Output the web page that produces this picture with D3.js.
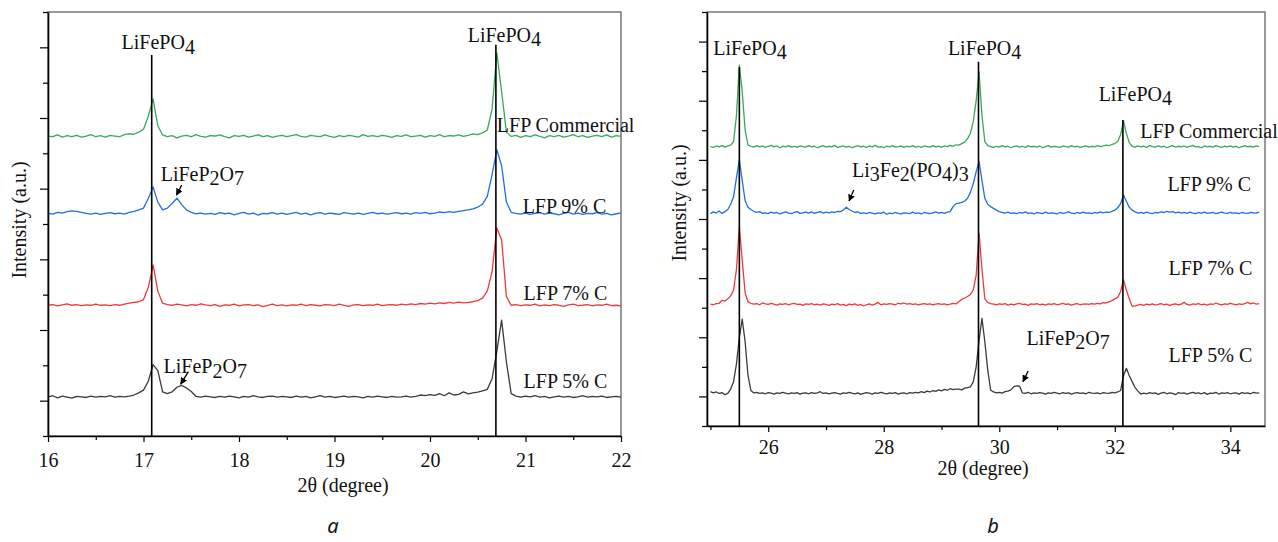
<!DOCTYPE html>
<html lang="en">
<head>
<meta charset="utf-8">
<title>XRD patterns of LFP samples</title>
<script src="https://cdnjs.cloudflare.com/ajax/libs/d3/7.8.5/d3.min.js"></script>
<style>
  body { margin: 0; background: #fff; }
  svg text { font-family: "Liberation Serif", "Times New Roman", serif; fill: #111; }
  svg text.panel-tag { font-family: "Noto Sans", "DejaVu Sans", sans-serif; font-style: italic; }
</style>
</head>
<body>
<script>
// ---------- data ----------
// sampling grids (2theta, degree)
const xStepLeft = 0.05, xStartLeft = 16.0, nLeft = 121;
const xStepRight = 0.05, xStartRight = 25.0, nRight = 191;

// panel a, intensity (a.u., offset stacked)
const aCommercial = [
  8.49,8.47,8.52,8.46,8.50,8.47,8.51,8.46,8.49,8.53,8.47,8.50,8.46,8.51,8.49,8.47,8.53,8.55,8.54,8.60,
  8.68,9.05,9.54,8.78,8.52,
  8.47,8.50,8.44,8.49,8.51,8.47,8.53,8.48,8.46,8.50,8.49,8.52,8.47,8.44,8.50,8.48,8.51,8.46,8.49,8.52,8.47,8.50,8.45,8.49,8.51,
  8.47,8.50,8.53,8.48,8.46,8.51,8.49,8.47,8.52,8.48,8.45,8.50,8.47,8.51,8.49,8.46,8.53,8.48,8.50,8.47,8.51,8.49,8.45,8.50,8.48,
  8.52,8.47,8.49,8.51,8.46,8.50,8.48,8.53,8.47,8.50,8.49,8.52,8.48,8.51,8.55,8.53,8.58,
  8.66,9.25,10.84,9.75,8.60,
  8.48,8.51,8.45,8.50,8.47,8.52,8.48,8.44,8.50,8.47,8.51,8.46,8.49,8.53,8.47,8.50,8.45,8.49,8.51,8.47,8.52,8.46,8.50,8.48
];
const aC9 = [
  6.30,6.28,6.33,6.31,6.35,6.37,6.36,6.33,6.30,6.28,6.31,6.27,6.30,6.32,6.29,6.31,6.28,6.33,6.36,6.40,
  6.45,6.72,7.05,6.62,6.40,6.45,6.58,6.73,6.55,6.40,6.33,6.29,
  6.31,6.28,6.30,6.27,6.32,6.29,6.31,6.26,6.30,6.33,6.28,6.31,6.25,6.30,6.29,6.32,6.28,6.31,
  6.27,6.30,6.33,6.28,6.31,6.26,6.30,6.32,6.28,6.31,6.29,6.27,6.32,6.30,6.28,6.31,6.27,6.30,6.33,6.29,6.31,6.28,6.30,6.32,6.29,
  6.31,6.28,6.32,6.30,6.33,6.29,6.31,6.34,6.32,6.35,6.33,6.36,6.38,6.40,6.43,
  6.48,6.56,6.78,7.40,8.10,7.65,6.62,6.33,
  6.30,6.28,6.31,6.27,6.30,6.32,6.28,6.31,6.29,6.26,6.30,6.33,6.28,6.31,6.27,6.30,6.29,6.32,6.28,6.30,6.26,6.29,6.31
];
const aC7 = [
  3.70,3.72,3.68,3.71,3.74,3.70,3.72,3.69,3.71,3.70,3.73,3.70,3.71,3.69,3.72,3.70,3.73,3.76,3.78,
  3.80,3.86,4.20,4.84,4.10,3.76,
  3.72,3.70,3.73,3.71,3.68,3.72,3.70,3.74,3.71,3.69,3.72,3.67,3.71,3.70,3.73,3.68,3.71,3.72,3.69,3.71,3.66,3.70,3.73,3.69,3.71,
  3.68,3.71,3.70,3.73,3.69,3.72,3.70,3.68,3.72,3.71,3.69,3.73,3.70,3.67,3.71,3.72,3.69,3.71,3.70,3.73,3.69,3.71,3.72,3.70,3.73,
  3.71,3.74,3.72,3.75,3.73,3.76,3.74,3.77,3.75,3.78,3.76,3.79,3.77,3.78,3.80,3.83,
  3.90,4.10,4.65,5.89,5.55,3.95,3.70,
  3.72,3.69,3.71,3.70,3.73,3.68,3.71,3.69,3.72,3.70,3.67,3.71,3.73,3.69,3.70,3.72,3.68,3.71,3.70,3.73,3.69,3.70,3.68
];
const aC5 = [
  1.10,1.14,1.08,1.13,1.10,1.07,1.12,1.11,1.09,1.13,1.10,1.12,1.11,1.14,1.10,1.12,1.11,1.13,1.16,1.22,
  1.30,1.55,2.02,1.85,1.25,1.20,1.25,1.38,1.43,1.36,1.26,1.12,
  1.10,1.13,1.11,1.09,1.12,1.10,1.13,1.11,1.08,1.12,1.10,1.14,1.11,1.09,1.12,1.13,1.10,1.12,
  1.11,1.09,1.13,1.10,1.12,1.08,1.11,1.14,1.10,1.12,1.09,1.11,1.13,1.10,1.12,1.11,1.08,1.12,1.10,1.13,1.11,1.09,1.12,1.10,1.11,
  1.13,1.10,1.12,1.16,1.14,1.17,1.15,1.20,1.14,1.22,1.16,1.18,1.25,1.19,1.22,1.24,1.28,
  1.32,1.62,2.40,3.28,2.10,1.20,1.13,
  1.10,1.13,1.11,1.14,1.10,1.12,1.08,1.11,1.13,1.10,1.12,1.09,1.11,1.14,1.10,1.12,1.11,1.13,1.09,1.11,1.12,1.10
];

// panel b
const bCommercial = [
  9.45,9.42,9.47,9.44,9.48,9.43,9.47,9.50,
  9.62,10.50,12.20,11.30,10.00,9.50,
  9.46,9.43,9.48,9.44,9.47,9.42,9.46,9.49,9.44,9.47,9.41,9.46,9.44,9.48,9.43,9.46,9.42,9.47,9.45,9.43,9.48,9.44,9.46,9.41,9.45,9.48,9.43,
  9.46,9.44,9.49,9.42,9.45,9.47,9.43,9.46,9.41,9.45,9.48,9.44,9.46,9.42,9.47,9.44,9.49,9.43,9.45,9.41,9.46,9.44,9.48,9.43,9.45,9.47,9.42,9.46,9.44,9.48,
  9.43,9.46,9.42,9.47,9.45,9.43,9.48,9.44,9.46,9.42,9.47,9.45,9.49,9.46,9.51,9.50,9.55,
  9.60,9.72,9.90,10.30,11.00,11.98,10.50,9.62,9.48,
  9.45,9.42,9.46,9.43,9.48,9.44,9.46,9.41,9.45,9.47,9.43,9.46,9.42,9.48,9.44,9.46,9.43,9.47,9.41,9.45,9.48,9.43,9.46,9.44,9.42,9.47,9.45,9.43,9.48,9.44,9.46,9.42,9.45,9.47,9.43,9.46,9.44,9.48,9.45,9.47,9.50,9.48,9.52,9.55,
  9.62,9.85,10.32,9.90,9.58,9.46,
  9.43,9.47,9.44,9.46,9.42,9.48,9.45,9.43,9.47,9.44,9.46,9.41,9.45,9.48,9.43,9.46,9.44,9.47,9.42,9.46,9.49,9.44,9.45,9.41,9.47,9.44,9.46,9.43,9.48,9.45,9.42,9.46,9.44,9.47,9.43,9.46,9.41,9.45,9.48,9.44,9.46,9.43,9.47,9.45
];
const bC9 = [
  7.18,7.24,7.20,7.27,7.19,7.25,7.32,
  7.50,7.75,8.40,9.00,8.30,7.62,7.40,7.32,
  7.26,7.22,7.25,7.19,7.21,7.18,7.23,7.20,7.22,7.17,7.21,7.24,7.20,7.18,7.22,7.25,7.19,7.21,7.23,7.20,7.24,7.19,7.22,7.25,7.20,7.23,
  7.21,7.24,7.22,7.26,7.25,7.30,7.40,7.32,7.27,7.22,7.24,7.19,7.21,
  7.18,7.22,7.20,7.17,7.21,7.19,7.23,7.16,7.20,7.18,7.22,7.19,7.17,7.21,7.20,7.18,7.23,7.19,7.21,7.17,7.22,7.20,7.18,7.21,7.24,7.20,7.22,7.19,7.23,7.25,7.42,7.52,
  7.54,7.56,7.60,7.70,7.90,8.20,8.60,8.94,8.30,7.70,7.50,7.42,7.36,7.30,
  7.25,7.22,7.20,7.23,7.19,7.21,7.18,7.22,7.20,7.24,7.19,7.21,7.17,7.22,7.20,7.18,7.23,7.19,7.21,7.20,7.17,7.22,7.19,7.21,7.24,7.20,7.18,7.22,7.19,7.23,7.20,7.21,7.18,7.22,7.20,7.24,7.21,7.23,7.22,7.26,7.30,
  7.38,7.52,7.81,7.60,7.40,7.30,7.24,
  7.20,7.22,7.19,7.23,7.20,7.18,7.22,7.21,7.24,7.22,7.26,7.23,7.25,7.21,7.23,7.20,7.22,7.19,7.23,7.20,7.18,7.22,7.20,7.23,7.19,7.21,7.22,7.18,7.21,7.23,7.20,7.19,7.22,7.20,7.21,7.18,7.22,7.20,7.19,7.22,7.21,7.20,7.23
];
const bC7 = [
  4.12,4.10,4.14,4.15,
  4.25,4.22,4.30,4.40,4.60,5.30,6.74,5.60,4.50,4.20,
  4.15,4.12,4.14,4.10,4.16,4.13,4.11,4.15,4.12,4.09,4.13,4.11,4.14,4.10,4.13,4.15,4.11,4.12,4.08,4.13,4.11,4.14,4.10,4.12,4.09,4.13,4.11,
  4.08,4.12,4.10,4.14,4.09,4.11,4.07,4.12,4.10,4.13,4.08,4.11,4.06,4.10,4.13,4.09,4.12,4.18,4.10,4.13,4.11,4.14,4.12,4.10,4.15,4.13,4.16,4.12,4.14,4.11,
  4.13,4.10,4.12,4.14,4.11,4.13,4.10,4.12,4.14,4.11,4.13,4.10,4.12,4.15,4.13,4.20,4.28,4.33,4.38,
  4.45,4.60,5.10,6.52,5.30,4.30,4.18,4.14,
  4.12,4.10,4.13,4.11,4.14,4.09,4.12,4.10,4.13,4.15,4.11,4.12,4.08,4.13,4.11,4.14,4.10,4.12,4.09,4.13,4.11,4.14,4.10,4.12,4.15,4.11,4.13,4.09,4.12,4.14,4.10,4.12,4.13,4.11,4.14,4.12,4.15,4.13,4.17,4.16,4.20,4.24,4.30,
  4.35,4.55,4.94,4.60,4.30,4.05,
  4.06,4.09,4.11,4.08,4.12,4.10,4.13,4.09,4.11,4.14,4.10,4.12,4.08,4.11,4.13,4.10,4.12,4.18,4.11,4.09,4.13,4.11,4.14,4.10,4.12,4.09,4.13,4.11,4.16,4.12,4.10,4.13,4.11,4.15,4.12,4.10,4.13,4.11,4.14,4.18,4.13,4.16,4.12,4.14
];
const bC5 = [
  1.16,1.12,1.15,1.10,1.13,1.06,1.10,
  1.25,1.50,2.10,3.00,3.61,2.85,1.70,1.20,1.12,
  1.14,1.10,1.12,1.09,1.13,1.11,1.08,1.12,1.10,1.14,1.11,1.09,1.12,1.10,1.13,1.08,1.11,1.12,1.09,1.13,1.10,1.12,1.16,1.10,1.12,
  1.09,1.11,1.13,1.10,1.08,1.12,1.10,1.14,1.11,1.09,1.12,1.07,1.10,1.13,1.11,1.08,1.12,1.10,1.14,1.11,1.09,1.12,1.10,1.13,1.08,1.11,1.12,1.09,1.13,1.11,
  1.14,1.12,1.16,1.13,1.18,1.15,1.20,1.17,1.22,1.19,1.24,1.21,1.26,1.23,1.25,
  1.25,1.22,1.28,1.30,1.32,1.50,2.00,2.90,3.64,2.85,1.90,1.22,1.15,
  1.12,1.14,1.11,1.16,1.18,
  1.22,1.33,1.36,1.35,1.12,
  1.10,1.14,1.09,1.12,1.10,1.13,1.11,1.08,1.12,1.10,1.14,1.11,1.09,1.13,1.10,1.12,1.08,1.11,1.13,1.10,1.12,1.09,1.14,1.11,1.10,1.12,1.09,1.13,1.11,1.10,1.14,1.12,1.15,
  1.20,1.70,1.95,1.70,1.50,1.30,1.18,1.08,
  1.11,1.09,1.13,1.10,1.12,1.07,1.11,1.14,1.09,1.12,1.10,1.06,1.13,1.10,1.12,1.08,1.11,1.14,1.10,1.12,1.09,1.13,1.07,1.11,1.10,1.14,1.08,1.12,1.10,1.13,1.09,1.11,1.12,1.08,1.13,1.10,1.12,1.09,1.14,1.11,1.12
];

const seriesColors = ["#38a95c", "#1f6fe3", "#ef3a3c", "#3b3b3b"];

// tick values
const aMajorX = [16, 17, 18, 19, 20, 21, 22];
const aMinorX = [16.5, 17.5, 18.5, 19.5, 20.5, 21.5];
const aMajorY = [1, 3, 5, 7, 9, 11];
const aMinorY = [0, 2, 4, 6, 8, 10, 12];
const bMajorX = [26, 28, 30, 32, 34];
const bMinorX = [25, 27, 29, 31, 33];
const bMajorY = [1, 3, 5, 7, 9, 11, 13];
const bMinorY = [0, 2, 4, 6, 8, 10, 12, 14];

// reference lines [2theta, top intensity]
const aRefLines = [[17.086, 10.78], [20.69, 11.07]];
const bRefLines = [[25.50, 12.14], [29.64, 12.32], [32.14, 10.35]];

// annotations [text, 2theta, intensity]  ("_" marks a subscript digit)
const aLabels = [
  ["LiFePO_4", 16.77, 10.94], ["LiFePO_4", 20.395, 11.16],
  ["LiFeP_2O_7", 17.18, 7.22], ["LiFeP_2O_7", 17.21, 1.77],
  ["LFP Commercial", 20.70, 8.61], ["LFP 9% C", 20.97, 6.30],
  ["LFP 7% C", 20.98, 3.85], ["LFP 5% C", 20.98, 1.35]
];
const bLabels = [
  ["LiFePO_4", 25.05, 12.55], ["LiFePO_4", 29.11, 12.55], ["LiFePO_4", 31.72, 11.0],
  ["Li_3Fe_2(PO_4)_3", 27.45, 8.43], ["LiFeP_2O_7", 30.47, 2.74],
  ["LFP Commercial", 32.44, 9.73], ["LFP 9% C", 32.91, 7.96],
  ["LFP 7% C", 32.93, 5.11], ["LFP 5% C", 32.93, 2.17]
];
// arrows [x0, y0, x1, y1]
const aArrows = [[17.40, 7.10, 17.345, 6.82], [17.47, 1.82, 17.39, 1.47]];
const bArrows = [[27.48, 7.98, 27.40, 7.61], [30.50, 1.86, 30.41, 1.50]];

// ---------- drawing ----------
const SERIF = '"Liberation Serif", "Times New Roman", serif';
const W = 1278, H = 542;
const svg = d3.select("body").append("svg").attr("width", W).attr("height", H);

svg.append("defs").append("marker")
  .attr("id", "arrowhead")
  .attr("viewBox", "0 0 10 10")
  .attr("refX", 9).attr("refY", 5)
  .attr("markerWidth", 7).attr("markerHeight", 7)
  .attr("markerUnits", "userSpaceOnUse")
  .attr("orient", "auto")
  .append("path").attr("d", "M0,0 L10,5 L0,10 Z").attr("fill", "#000");

function richText(g, str, x, y) {
  const t = g.append("text").attr("x", x).attr("y", y)
    .style("font-family", SERIF).style("font-size", "20px");
  const parts = str.split(/(_\d)/).filter(s => s.length);
  let lowered = false;
  parts.forEach(p => {
    if (p[0] === "_") {
      t.append("tspan").attr("dy", lowered ? 0 : 4.5).text(p[1]);
      lowered = true;
    } else {
      t.append("tspan").attr("dy", lowered ? -4.5 : 0).text(p);
      lowered = false;
    }
  });
}

function drawPanel(cfg) {
  const g = svg.append("g");
  const x = d3.scaleLinear().domain(cfg.xDomain).range([cfg.left, cfg.right]);
  const y = d3.scaleLinear().domain(cfg.yDomain).range([cfg.bottom, cfg.top]);

  // frame
  g.append("rect")
    .attr("x", cfg.left).attr("y", cfg.top)
    .attr("width", cfg.right - cfg.left).attr("height", cfg.bottom - cfg.top)
    .attr("fill", "none").attr("stroke", "#555").attr("stroke-width", 1.2);

  // traces
  const line = d3.line().x(d => x(d[0])).y(d => y(d[1]));
  cfg.series.forEach((vals, k) => {
    const pts = vals.map((v, i) => [cfg.x0 + i * cfg.dx, v]);
    g.append("path").datum(pts)
      .attr("d", line)
      .attr("fill", "none")
      .attr("stroke", seriesColors[k])
      .attr("stroke-width", 1.3)
      .attr("stroke-linejoin", "round");
  });

  // reference lines
  g.selectAll(".ref").data(cfg.refLines).enter().append("line")
    .attr("x1", d => x(d[0])).attr("x2", d => x(d[0]))
    .attr("y1", d => y(d[1])).attr("y2", cfg.bottom)
    .attr("stroke", "#000").attr("stroke-width", 1.6);

  // axes
  const xa = g.append("g").attr("transform", `translate(0,${cfg.bottom})`)
    .call(d3.axisBottom(x).tickValues(cfg.majorX).tickSize(6).tickSizeOuter(0)
      .tickPadding(cfg.xPad).tickFormat(d3.format("d")));
  g.append("g").attr("transform", `translate(0,${cfg.bottom})`)
    .call(d3.axisBottom(x).tickValues(cfg.minorX).tickSize(4).tickSizeOuter(0).tickFormat(""))
    .select(".domain").remove();
  xa.selectAll("text")
    .style("font-family", SERIF).style("font-size", "20px").attr("fill", "#111");

  g.append("g").attr("transform", `translate(${cfg.left},0)`)
    .call(d3.axisLeft(y).tickValues(cfg.majorY).tickSize(8).tickSizeOuter(0).tickFormat(""));
  g.append("g").attr("transform", `translate(${cfg.left},0)`)
    .call(d3.axisLeft(y).tickValues(cfg.minorY).tickSize(5).tickSizeOuter(0).tickFormat(""))
    .select(".domain").remove();
  g.selectAll(".domain").attr("stroke", "#000").attr("stroke-width", 1.6);
  g.selectAll(".tick line").attr("stroke", "#000").attr("stroke-width", 1.2);

  // axis titles
  g.append("text")
    .attr("x", cfg.xTitle[0]).attr("y", cfg.xTitle[1])
    .attr("text-anchor", "middle")
    .style("font-family", SERIF).style("font-size", "20px")
    .text("2θ (degree)");
  g.append("text")
    .attr("transform", `translate(${cfg.yTitle[0]},${cfg.yTitle[1]}) rotate(-90)`)
    .attr("text-anchor", "middle")
    .style("font-family", SERIF).style("font-size", "20px")
    .text("Intensity (a.u.)");

  // annotations
  cfg.labels.forEach(d => richText(g, d[0], x(d[1]), y(d[2])));
  g.selectAll(".arr").data(cfg.arrows).enter().append("line")
    .attr("x1", d => x(d[0])).attr("y1", d => y(d[1]))
    .attr("x2", d => x(d[2])).attr("y2", d => y(d[3]))
    .attr("stroke", "#000").attr("stroke-width", 1.3)
    .attr("marker-end", "url(#arrowhead)");

  // panel tag
  svg.append("text").attr("class", "panel-tag")
    .attr("x", cfg.tag[1]).attr("y", cfg.tag[2])
    .attr("text-anchor", "middle").style("font-size", "20px")
    .text(cfg.tag[0]);
}

drawPanel({
  left: 48, right: 621, top: 12, bottom: 436,
  xDomain: [16, 22], yDomain: [0, 12],
  x0: xStartLeft, dx: xStepLeft,
  series: [aCommercial, aC9, aC7, aC5],
  majorX: aMajorX, minorX: aMinorX, majorY: aMajorY, minorY: aMinorY,
  xPad: 11, xTitle: [343, 492], yTitle: [26, 220],
  refLines: aRefLines, labels: aLabels, arrows: aArrows,
  tag: ["a", 333, 533]
});

drawPanel({
  left: 707, right: 1265, top: 12, bottom: 426,
  xDomain: [24.94, 34.6], yDomain: [0, 14],
  x0: xStartRight, dx: xStepRight,
  series: [bCommercial, bC9, bC7, bC5],
  majorX: bMajorX, minorX: bMinorX, majorY: bMajorY, minorY: bMinorY,
  xPad: 8, xTitle: [983, 475], yTitle: [686, 203],
  refLines: bRefLines, labels: bLabels, arrows: bArrows,
  tag: ["b", 993, 533]
});
</script>
</body>
</html>
